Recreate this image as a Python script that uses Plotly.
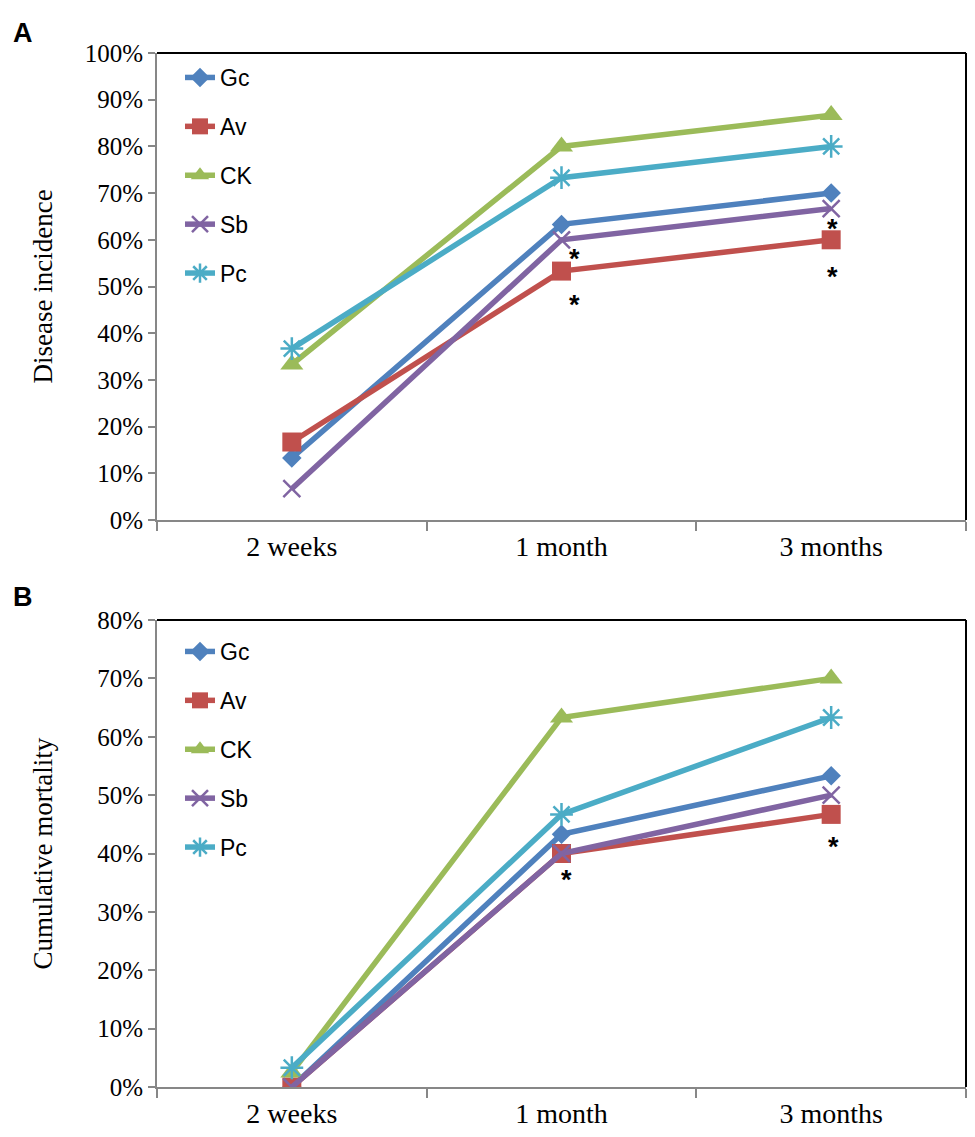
import plotly.graph_objects as go

# dados (percentagens)
periods = ["2 weeks", "1 month", "3 months"]
groups = ["Gc", "Av", "CK", "Sb", "Pc"]

incidence_gc = [13.3, 63.3, 70.0]
incidence_av = [16.7, 53.3, 60.0]
incidence_ck = [33.3, 80.0, 86.7]
incidence_sb = [6.7, 60.0, 66.7]
incidence_pc = [36.7, 73.3, 80.0]

mortality_gc = [0.0, 43.3, 53.3]
mortality_av = [0.0, 40.0, 46.7]
mortality_ck = [2.5, 63.3, 70.0]
mortality_sb = [0.0, 40.0, 50.0]
mortality_pc = [3.3, 46.7, 63.3]

# pontos com diferença significativa (grupo, período)
signif_incidence = [("Sb", "1 month"), ("Av", "1 month"), ("Sb", "3 months"), ("Av", "3 months")]
signif_mortality = [("Av", "1 month"), ("Av", "3 months")]

incidence = dict(zip(groups, [incidence_gc, incidence_av, incidence_ck, incidence_sb, incidence_pc]))
mortality = dict(zip(groups, [mortality_gc, mortality_av, mortality_ck, mortality_sb, mortality_pc]))

colors = {"Gc": "#4F81BD", "Av": "#C0504D", "CK": "#9BBB59", "Sb": "#8064A2", "Pc": "#4BACC6"}
symbols = {"Gc": "diamond", "Av": "square", "CK": "triangle-up", "Sb": "x-thin-open", "Pc": "asterisk-open"}
sizes = {"Gc": 15, "Av": 19, "CK": 20, "Sb": 17, "Pc": 19}

AXIS_GREY = "#878787"
SERIF = "Liberation Serif, Times New Roman, serif"
SANS = "Liberation Sans, Arial, sans-serif"

# área útil (px dentro da figura)
W, H = 967, 1129
L, R, T, B = 149, 9, 45, 50
plot_h = H - T - B


def paper_y(py):
    return (H - B - py) / plot_h


def paper_x(px):
    return (px - L) / (W - L - R)


fig = go.Figure()

for panel, data, xa, ya, leg in [("A", incidence, "x", "y", "legend"),
                                 ("B", mortality, "x2", "y2", "legend2")]:
    for g in groups:
        thin = symbols[g].endswith("open")
        fig.add_trace(go.Scatter(
            x=periods,
            y=data[g],
            name=g,
            mode="lines+markers",
            xaxis=xa,
            yaxis=ya,
            legend=leg,
            legendgroup=f"{panel}-{g}",
            line=dict(color=colors[g], width=5.5),
            marker=dict(
                symbol=symbols[g],
                size=sizes[g],
                color=colors[g],
                line=dict(color=colors[g], width=2.5 if thin else 0)
            ),
            hovertemplate=f"<b>{g}</b><br>%{{x}}: %{{y:.1f}}%<extra></extra>"
        ))

# asteriscos de significância (deslocamentos em px)
star_offsets_a = [(13, 12), (13, 27), (1, 13), (1, 30)]
star_offsets_b = [(5, 19), (2, 26)]

annotations = []
for pairs, data, xa, ya, offs in [(signif_incidence, incidence, "x", "y", star_offsets_a),
                                  (signif_mortality, mortality, "x2", "y2", star_offsets_b)]:
    for (g, p), (dx, dy) in zip(pairs, offs):
        annotations.append(dict(
            x=p, y=data[g][periods.index(p)], xref=xa, yref=ya,
            text="<b>*</b>", showarrow=False,
            xshift=dx, yshift=-(dy + 7),
            font=dict(size=27, color="black", family=SANS)
        ))

# letras dos painéis
for letter, py in [("A", 25), ("B", 589)]:
    annotations.append(dict(x=paper_x(15), y=paper_y(py), xref="paper", yref="paper",
                            xanchor="center", yanchor="middle", text=f"<b>{letter}</b>",
                            showarrow=False, font=dict(size=27, family=SANS, color="black")))

# títulos dos eixos y
for title, yr in [("Disease incidence", "y domain"), ("Cumulative mortality", "y2 domain")]:
    annotations.append(dict(x=paper_x(34), y=0.5, xref="paper", yref=yr,
                            xanchor="center", yanchor="middle", textangle=-90,
                            text=title, showarrow=False,
                            font=dict(family=SERIF, size=27, color="black")))

# moldura superior e direita em preto
shapes = []
for xr, yr in [("x domain", "y domain"), ("x2 domain", "y2 domain")]:
    shapes.append(dict(type="line", xref=xr, yref=yr, x0=0, x1=1, y0=1, y1=1,
                       line=dict(color="black", width=2)))
    shapes.append(dict(type="line", xref=xr, yref=yr, x0=1, x1=1, y0=0, y1=1,
                       line=dict(color="black", width=2)))

xaxis_style = dict(
    type="category",
    range=[-0.5, 2.5],
    showline=True, linecolor=AXIS_GREY, linewidth=2,
    ticks="outside", tickson="boundaries", ticklen=9, tickcolor=AXIS_GREY, tickwidth=2,
    showgrid=False, zeroline=False,
    tickfont=dict(family=SERIF, size=28, color="black")
)

yaxis_style = dict(
    showline=True, linecolor=AXIS_GREY, linewidth=2,
    ticks="outside", ticklen=7, tickcolor=AXIS_GREY, tickwidth=2,
    showgrid=False, zeroline=False, dtick=10, ticksuffix="%",
    tickfont=dict(family=SERIF, size=25, color="black")
)

legend_style = dict(
    x=paper_x(172), xanchor="left", yanchor="top",
    bgcolor="rgba(0,0,0,0)", borderwidth=0,
    font=dict(family=SANS, size=23, color="black"),
    traceorder="grouped", tracegroupgap=16,
    itemclick=False, itemdoubleclick=False
)

fig.update_layout(
    width=W,
    height=H,
    margin=dict(l=L, r=R, t=T, b=B),
    plot_bgcolor="white",
    paper_bgcolor="white",
    showlegend=True,
    xaxis=dict(xaxis_style, domain=[0, 1], anchor="y"),
    yaxis=dict(yaxis_style, domain=[paper_y(512), 1], range=[0, 100], anchor="x"),
    xaxis2=dict(xaxis_style, domain=[0, 1], anchor="y2"),
    yaxis2=dict(yaxis_style, domain=[0, paper_y(612)], range=[0, 80], anchor="x2"),
    legend=dict(legend_style, y=paper_y(48)),
    legend2=dict(legend_style, y=paper_y(622)),
    annotations=annotations,
    shapes=shapes,
    hovermode="closest"
)

fig.write_html("out.html")
